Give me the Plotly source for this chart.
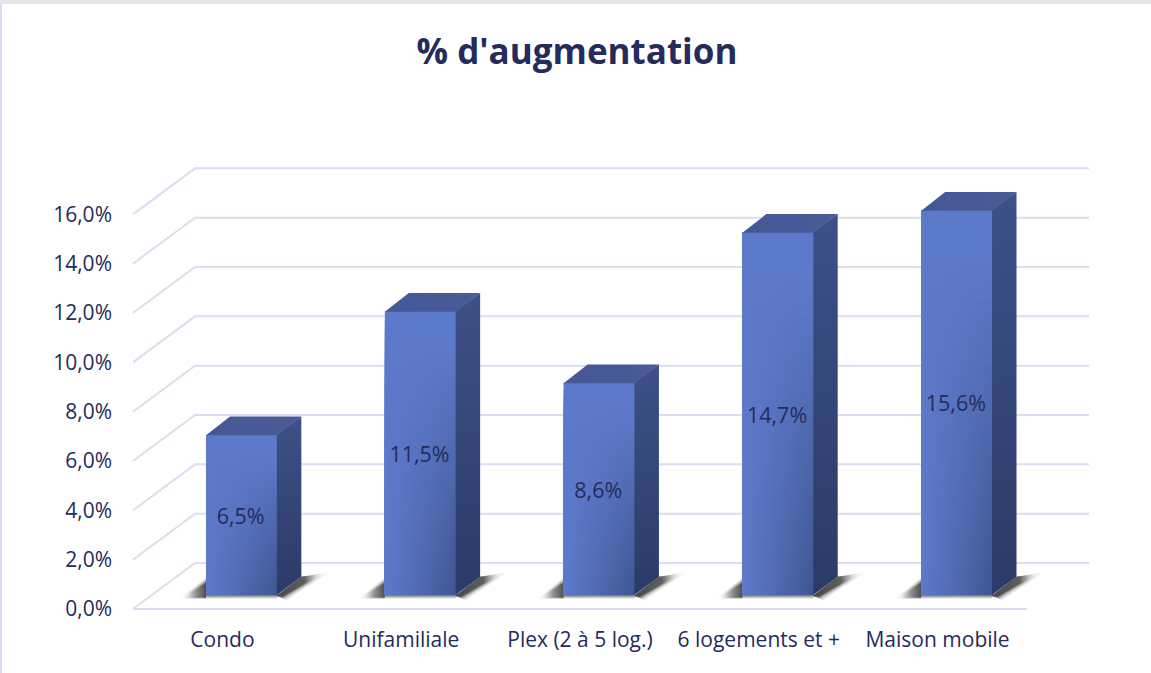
import plotly.graph_objects as go

categories = ["Condo", "Unifamiliale", "Plex (2 à 5 log.)", "6 logements et +", "Maison mobile"]
values = [6.5, 11.5, 8.6, 14.7, 15.6]
axis_ticks = [0, 2, 4, 6, 8, 10, 12, 14, 16]
axis_labels = ["0,0%", "2,0%", "4,0%", "6,0%", "8,0%", "10,0%", "12,0%", "14,0%", "16,0%"]
chart_title = "% d'augmentation"

TEXT = "#252b5c"
GRID = "#dcddf0"
FRONT = (93, 121, 201)
SHADE = (60, 83, 140)
FONT = "Open Sans"

# geometry of the pseudo-3D drawing, in axis units
bar_w, bar_off, base = 0.399, -0.0915, 0.57
depth_x, depth_y = 0.134, 0.74
wall_x, wall_y = 0.347, 1.865
px, py = 1 / 178.7, 1 / 24.67
n = len(categories)
x_lo, x_hi = -0.5, n - 0.5
PLOT_W, PLOT_H, M_L, M_T, M_B = 956, 449, 133, 165, 59


def poly(xs, ys, colorscale=None, kind="horizontal", color=None):
    t = dict(x=list(xs) + [xs[0]], y=list(ys) + [ys[0]], mode="lines", line=dict(width=0),
             fill="toself", hoverinfo="skip", showlegend=False)
    if colorscale:
        t["fillgradient"] = dict(type=kind, colorscale=colorscale)
    else:
        t["fillcolor"] = color
    return go.Scatter(**t)


def mix(amount):
    c = [round(f + (s - f) * amount) for f, s in zip(FRONT, SHADE)]
    return f"rgb({c[0]},{c[1]},{c[2]})"


fig = go.Figure()
fig.add_trace(go.Bar(x=list(range(n)), y=values, base=base, width=bar_w, offset=bar_off,
                     marker=dict(color=mix(0), line=dict(width=0)), showlegend=False, hoverinfo="skip"))

ROWS = 30
for i, v in enumerate(values):
    l = i + bar_off
    r = l + bar_w
    b = base
    t = base + v
    # shadows: nested shapes, soft at the rim and dark next to the bar
    for tip, top, low, mid, dark in [(27, 18, 4, "#ececec", "#e0e0e0"), (25, 16.5, 3.5, "#d0d0d0", "#bcbcbc"),
                                     (23, 15, 3, "#b0b0b0", "#8c8c8c"), (21, 13.5, 2.5, "#8f8f8f", "#484848")]:
        fig.add_trace(poly([l + 1 * px, l - tip * px, l + 1 * px], [b + top * py, b - low * py, b - low * py],
                           [[0, "#ffffff"], [0.5, mid], [1, dark]]))
    fig.add_trace(poly([l, r, r, l], [b, b, b - 4 * py, b - 4 * py],
                       [[0, "#ffffff"], [1, "#6e6e6e"]], "vertical"))
    for tip, top, low, shift, mid, dark in [(52, 23, 5, 9, "#e0e0e0", "#e0e0e0"), (48, 22, 4, 7, "#bcbcbc", "#bcbcbc"),
                                            (45, 21, 3, 6, "#8c8c8c", "#8c8c8c"), (42, 20, 2, 5, "#5e5e5e", "#484848")]:
        fig.add_trace(poly([r - 1 * px, r + depth_x, r + tip * px, r + shift * px],
                           [b - 1 * py, b + depth_y, b + top * py, b - low * py],
                           [[0, dark], [0.65, mid], [1, "#ffffff"]]))
    # shading of the front face: nested rows, from the top down, brighter left and darker right
    for c in range(ROWS):
        row_top = b + (t - b) * (1 - c / ROWS)
        g = max(0.0, 1 - ((ROWS - c - 0.5) / ROWS) / 0.88)
        scale = [[p / 5, mix(0.95 * (p / 5) ** 1.15 * g)] for p in range(6)]
        fig.add_trace(poly([l, r, r, l], [b, b, row_top, row_top], scale))
    # right side and top faces
    fig.add_trace(poly([r - 0.5 * px, r + depth_x, r + depth_x, r - 0.5 * px], [b, b + depth_y, t + depth_y, t],
                       [[0, "#2b3b68"], [0.5, "#344577"], [1, "#3f5088"]], "vertical"))
    fig.add_trace(poly([l, r, r + depth_x, l + depth_x], [t - 0.5 * py, t - 0.5 * py, t + depth_y, t + depth_y],
                       [[0, "#455896"], [1, "#4a5b96"]], "horizontal"))

fig.add_trace(go.Scatter(x=[i + bar_off + bar_w / 2 - 1 * px for i in range(n)],
                         y=[base + v / 2 - 3.5 * py for v in values],
                         text=[f"{v:.1f}%".replace(".", ",") for v in values],
                         mode="text", textposition="middle center",
                         textfont=dict(family=FONT, size=21.5, color=TEXT),
                         showlegend=False, hoverinfo="skip"))

shapes = []
for tick in axis_ticks:
    shapes.append(dict(type="path", xref="x", yref="y", layer="below",
                       path=f"M {x_lo} {tick} L {x_lo + wall_x} {tick + wall_y} L {x_hi + wall_x} {tick + wall_y}",
                       line=dict(color=GRID, width=2)))
shapes.append(dict(type="line", xref="x", yref="y", layer="below", x0=x_lo, x1=x_hi, y0=0, y1=0,
                   line=dict(color=GRID, width=2)))
# window edges of the screenshot
shapes.append(dict(type="rect", xref="paper", yref="paper", layer="above",
                   x0=-M_L / PLOT_W, x1=1018 / PLOT_W, y0=1 + (M_T - 4) / PLOT_H, y1=1 + M_T / PLOT_H,
                   line=dict(width=0), fillcolor="#e6e6ea"))
shapes.append(dict(type="rect", xref="paper", yref="paper", layer="above",
                   x0=-M_L / PLOT_W, x1=(2 - M_L) / PLOT_W, y0=-M_B / PLOT_H, y1=1 + (M_T - 4) / PLOT_H,
                   line=dict(width=0), fillcolor="#d9dbf1"))

fig.update_layout(
    width=1151, height=673, autosize=False, bargap=0,
    margin=dict(l=M_L, r=62, t=M_T, b=M_B),
    paper_bgcolor="white", plot_bgcolor="white",
    font=dict(family=FONT, color=TEXT, size=21),
    title=dict(text=f"<b>{chart_title}</b>", font=dict(family=FONT, size=35, color=TEXT),
               x=577 / 1151, xref="container", xanchor="center", y=1 - 52 / 673, yref="container", yanchor="middle"),
    shapes=shapes,
    xaxis=dict(range=[x_lo, x_hi + wall_x], tickmode="array", tickvals=list(range(n)), ticktext=categories,
               showgrid=False, zeroline=False, showline=False, ticks="", ticklabelstandoff=11,
               tickfont=dict(family=FONT, size=21, color=TEXT)),
    yaxis=dict(range=[-0.2, 18], tickmode="array", tickvals=axis_ticks, ticktext=axis_labels,
               showgrid=False, zeroline=False, showline=False, ticks="", ticklabelstandoff=20,
               tickfont=dict(family=FONT, size=21, color=TEXT)),
)
fig.write_html("out.html", config={"displayModeBar": False},
               post_script="document.body.style.margin='0';document.documentElement.style.overflow='hidden';")
